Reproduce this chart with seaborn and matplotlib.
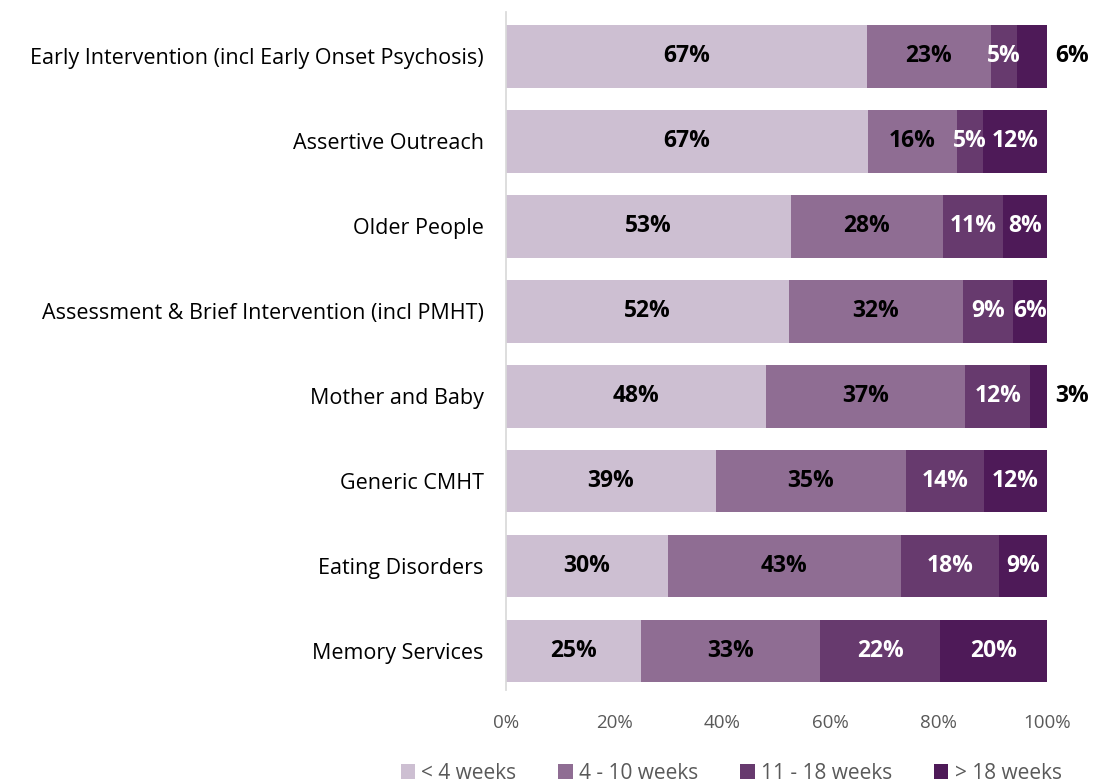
import numpy as np
import pandas as pd
import matplotlib
matplotlib.use("Agg")
import matplotlib.pyplot as plt
import seaborn as sns
from matplotlib.patches import Patch

services = ["Early Intervention (incl Early Onset Psychosis)", "Assertive Outreach",
            "Older People", "Assessment & Brief Intervention (incl PMHT)",
            "Mother and Baby", "Generic CMHT", "Eating Disorders", "Memory Services"]
under_4 = [66.7, 66.9, 52.7, 52.3, 48.1, 38.8, 29.9, 25.0]
wk_4_10 = [22.9, 16.4, 28.0, 32.2, 36.8, 35.1, 43.1, 33.1]
wk_11_18 = [4.8, 4.8, 11.2, 9.2, 12.0, 14.4, 18.1, 22.1]
over_18 = [5.6, 11.9, 8.1, 6.3, 3.1, 11.7, 8.9, 19.8]

series_names = ["< 4 weeks", "4 - 10 weeks", "11 - 18 weeks", "> 18 weeks"]
colors = ["#CDBFD2", "#8F6D93", "#673A6E", "#4E1A58"]
text_colors = ["black", "black", "white", "white"]

sns.set_theme(style="white")
plt.rcParams["font.family"] = ["Open Sans", "DejaVu Sans"]

df = pd.DataFrame({"service": services, series_names[0]: under_4, series_names[1]: wk_4_10,
                   series_names[2]: wk_11_18, series_names[3]: over_18})
cum = df[series_names].cumsum(axis=1)

fig = plt.figure(figsize=(10.96, 7.82), dpi=100)
ax = fig.add_axes([0.4617, 0.1176, 0.4936, 0.867])

# draw cumulative bars from the longest down so they stack
for i in range(len(series_names) - 1, -1, -1):
    sns.barplot(x=cum[series_names[i]], y=df["service"], color=colors[i], ax=ax,
                orient="h", width=0.74, linewidth=0, saturation=1)

for r in range(len(services)):
    left = 0
    for i, name in enumerate(series_names):
        v = df.loc[r, name]
        lab = "{:.0f}%".format(v)
        if i == 3 and (v < 4 or r == 0):
            # small end pieces get their label outside the bar
            ax.text(101.6, r, lab, ha="left", va="center", fontsize=16.5,
                    fontweight="bold", color="black", clip_on=False)
        else:
            ax.text(left + v / 2, r, lab, ha="center", va="center", fontsize=16.5,
                    fontweight="bold", color=text_colors[i])
        left += v

ax.set_xlim(0, 100)
ax.set_ylim(7.46, -0.52)
ax.set_xticks(np.arange(0, 101, 20))
ax.set_xticklabels([f"{t}%" for t in range(0, 101, 20)], color="#595959", fontsize=13.5)
ax.tick_params(axis="x", length=0, pad=17)
ax.tick_params(axis="y", length=0, pad=16, labelsize=15.5, labelcolor="black")
ax.set_xlabel("")
ax.set_ylabel("")
for s in ["top", "right", "bottom"]:
    ax.spines[s].set_visible(False)
ax.spines["left"].set_color("#D9D9D9")

handles = [Patch(facecolor=c, edgecolor="none") for c in colors]
fig.legend(handles, series_names, loc="lower center", bbox_to_anchor=(0.667, -0.026),
           ncol=4, frameon=False, fontsize=15, handlelength=0.7, handleheight=0.7,
           handletextpad=0.3, columnspacing=2.0, labelcolor="#595959")

fig.savefig("out.png", dpi=100)
